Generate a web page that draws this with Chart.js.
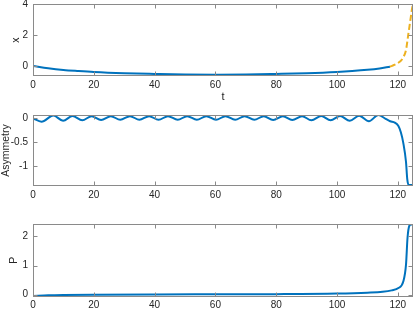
<!DOCTYPE html>
<html>
<head>
<meta charset="utf-8">
<script src="https://cdn.jsdelivr.net/npm/chart.js@4/dist/chart.umd.min.js"></script>
<style>
  html,body{margin:0;padding:0;background:#fff;}
  #wrap{position:relative;width:415px;height:309px;overflow:hidden;}
  .pan{position:absolute;left:0;width:415px;}
</style>
</head>
<body>
<div id="wrap">
  <div class="pan" style="top:0;height:105px"><canvas id="c1" width="415" height="105"></canvas></div>
  <div class="pan" style="top:105px;height:105px"><canvas id="c2" width="415" height="105"></canvas></div>
  <div class="pan" style="top:210px;height:99px"><canvas id="c3" width="415" height="99"></canvas></div>
</div>
<script>
/* ===== data ===== */
const tTicks = [0,20,40,60,80,100,120];

// panel 1 : x(t), solid part + dashed blow-up part
const xT   = [0, 5, 10, 15, 20, 30, 40, 50, 60, 70, 80, 90, 100, 105, 110, 114, 117.4];
const xVal = [0,-0.15,-0.26,-0.33,-0.39,-0.47,-0.52,-0.56,-0.57,-0.56,-0.52,-0.47,-0.39,-0.33,-0.25,-0.16,-0.05];
const xT2   = [117.4, 119, 120.7, 121.8, 122.7, 123.5, 124.1, 124.6, 125];
const xVal2 = [-0.05, 0.08, 0.28, 0.55, 1.03, 2.1, 2.9, 3.6, 4.0];
const xTicks = [0,2,4];

// panel 2 : asymmetry
const aT = [0,2.8,6.7,9.9,13.0,16.2,19.3,22.4,25.6,28.7,31.9,35.0,38.2,41.3,44.4,47.6,50.7,53.9,57.0,60.2,63.3,66.5,69.6,72.8,75.9,79.0,82.2,85.3,88.5,91.6,94.8,97.9,101.0,104.2,107.3,110.5,113.6,116,117.5,119,120.2,121,121.8,122.7,123.1,123.6,125];
const aVal = [-0.01,-0.08,0.05,-0.06,0.04,-0.05,0.035,-0.045,0.035,-0.04,0.035,-0.04,0.035,-0.04,0.035,-0.04,0.035,-0.04,0.035,-0.04,0.035,-0.04,0.035,-0.04,0.035,-0.045,0.035,-0.045,0.035,-0.05,0.04,-0.05,0.04,-0.06,0.045,-0.07,0.06,-0.02,-0.07,-0.1,-0.17,-0.3,-0.52,-0.92,-1.27,-1.4,-1.4];
const aTicks = [-1,-0.5,0];

// panel 3 : P
const pT   = [0, 5, 10, 20, 40, 60, 80, 100, 110, 115, 118, 120.2, 121.8, 122.7, 123.2, 123.8, 124.3, 125];
const pVal = [-0.04,-0.02,-0.01,0.0,0.01,0.015,0.02,0.04,0.07,0.1,0.15,0.23,0.45,1.03,1.95,2.36,2.4,2.4];
const pTicks = [0,1,2];

/* ===== style ===== */
const BLUE='#0072BD', GOLD='#EDB120', AX='#8a8a8a', TXT='#262626';
const FONT = "'Liberation Sans', Arial, Helvetica, sans-serif";

const pts=(t,v)=> t.map((x,i)=>({x, y:v[i]}));

// MATLAB like box with inward ticks on all 4 sides
const boxPlugin = {
  id:'box',
  afterDraw(chart){
    const {ctx, chartArea:a, scales:{x,y}} = chart;
    const L=Math.round(a.left)+0.5, R=Math.round(a.right)-0.5, T=Math.round(a.top)+0.5, B=Math.round(a.bottom)-0.5;
    ctx.save(); ctx.strokeStyle=AX; ctx.lineWidth=1;
    ctx.strokeRect(L,T,R-L,B-T);
    ctx.beginPath();
    x.ticks.forEach(tk=>{ const p=Math.round(x.getPixelForValue(tk.value))+0.5;
      ctx.moveTo(p,B); ctx.lineTo(p,B-4); ctx.moveTo(p,T); ctx.lineTo(p,T+4); });
    y.ticks.forEach(tk=>{ const p=Math.round(y.getPixelForValue(tk.value))+0.5;
      ctx.moveTo(L,p); ctx.lineTo(L+4,p); ctx.moveTo(R,p); ctx.lineTo(R-4,p); });
    ctx.stroke(); ctx.restore();
  }
};

function mkChart(id, datasets, o){
  return new Chart(document.getElementById(id), {
    type:'line',
    data:{datasets},
    options:{
      responsive:false, animation:false, events:[],
      layout:{padding:{top:o.padTop, right:2, left:0, bottom:0}},
      plugins:{legend:{display:false}, tooltip:{enabled:false}},
      elements:{point:{radius:0}, line:{cubicInterpolationMode:'monotone', borderWidth:2}},
      scales:{
        x:{type:'linear', min:0, max:125,
          grid:{display:false, drawTicks:false}, border:{display:false},
          afterBuildTicks:s=>{ s.ticks=tTicks.map(v=>({value:v})); },
          afterFit:s=>{ s.height=o.xH; s.paddingLeft=0; s.paddingRight=0; },
          ticks:{padding:3, maxRotation:0, color:TXT, font:{family:FONT,size:10}, callback:v=>String(v)},
          title:{display:!!o.xTitle, text:o.xTitle||'', color:TXT, font:{family:FONT,size:11}, padding:{top:0,bottom:1}}
        },
        y:{type:'linear', min:o.yMin, max:o.yMax,
          grid:{display:false, drawTicks:false}, border:{display:false},
          afterBuildTicks:s=>{ s.ticks=o.yTicks.map(v=>({value:v})); },
          afterFit:s=>{ s.width=33; s.paddingTop=0; s.paddingBottom=0; },
          ticks:{padding:5, color:TXT, font:{family:FONT,size:10}, callback:v=>String(v)},
          title:{display:true, text:o.yTitle, color:TXT, font:{family:FONT,size:10.5}, padding:{top:o.yTitlePad,bottom:0}}
        }
      }
    },
    plugins:[boxPlugin]
  });
}

mkChart('c1', [
  {data:pts(xT,xVal), borderColor:BLUE},
  {data:pts(xT2,xVal2), borderColor:GOLD, borderDash:[6,3]}
], {padTop:4, xH:29, xTitle:'t', yMin:-0.65, yMax:4, yTicks:xTicks, yTitle:'x', yTitlePad:10});

mkChart('c2', [
  {data:pts(aT,aVal), borderColor:BLUE}
], {padTop:10, xH:24, yMin:-1.42, yMax:0.06, yTicks:aTicks, yTitle:'Asymmetry', yTitlePad:0});

mkChart('c3', [
  {data:pts(pT,pVal), borderColor:BLUE}
], {padTop:14, xH:12.5, yMin:-0.06, yMax:2.42, yTicks:pTicks, yTitle:'P', yTitlePad:8});
</script>
</body>
</html>
